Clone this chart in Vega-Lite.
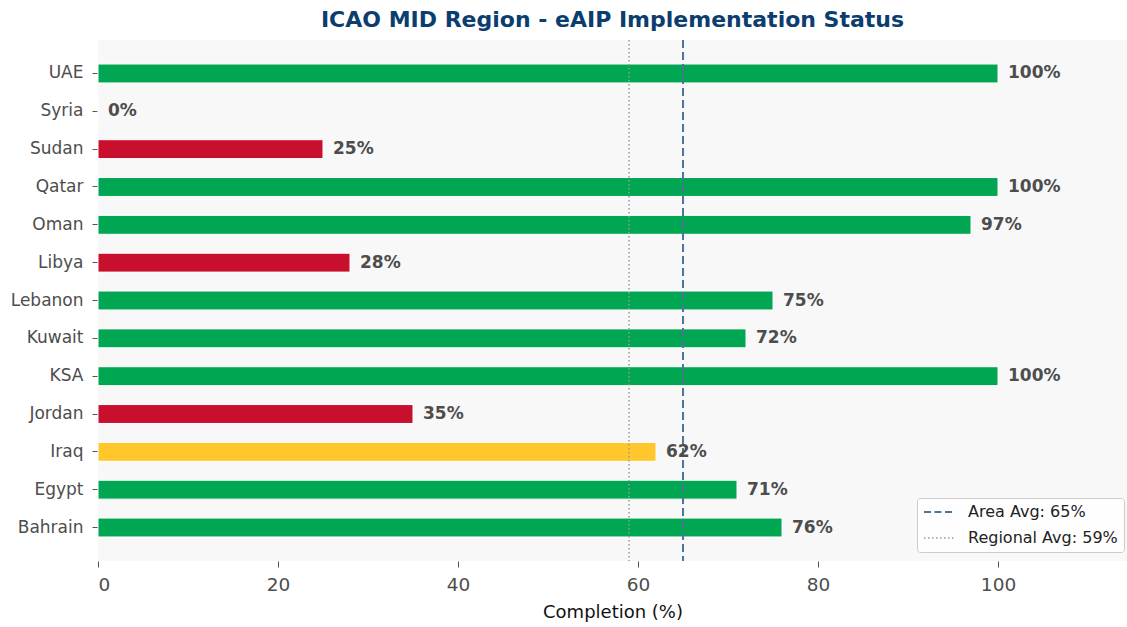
{
  "$schema": "https://vega.github.io/schema/vega-lite/v6.json",
  "autosize": {"type": "none"},
  "padding": {"left": 98, "top": 40, "right": 0, "bottom": 66},
  "width": 1029,
  "height": 521,
  "background": "white",
  "title": {
    "text": "ICAO MID Region - eAIP Implementation Status",
    "font": "DejaVu Sans",
    "fontSize": 22,
    "fontWeight": "bold",
    "color": "#0b3d6e",
    "anchor": "middle",
    "offset": 7
  },
  "config": {
    "font": "DejaVu Sans",
    "view": {"fill": "#f8f8f8", "stroke": null}
  },
  "datasets": {
    "countries": [
      {"country": "UAE", "value": 100, "status": "high"},
      {"country": "Syria", "value": 0, "status": "low"},
      {"country": "Sudan", "value": 25, "status": "low"},
      {"country": "Qatar", "value": 100, "status": "high"},
      {"country": "Oman", "value": 97, "status": "high"},
      {"country": "Libya", "value": 28, "status": "low"},
      {"country": "Lebanon", "value": 75, "status": "high"},
      {"country": "Kuwait", "value": 72, "status": "high"},
      {"country": "KSA", "value": 100, "status": "high"},
      {"country": "Jordan", "value": 35, "status": "low"},
      {"country": "Iraq", "value": 62, "status": "medium"},
      {"country": "Egypt", "value": 71, "status": "high"},
      {"country": "Bahrain", "value": 76, "status": "high"}
    ],
    "averages": [
      {"name": "Area Avg: 65%", "value": 65},
      {"name": "Regional Avg: 59%", "value": 59}
    ]
  },
  "resolve": {"scale": {"color": "independent"}, "legend": {"color": "independent"}},
  "layer": [
    {
      "data": {"name": "countries"},
      "mark": {"type": "bar", "stroke": "white", "strokeWidth": 1},
      "encoding": {
        "y": {
          "field": "country",
          "type": "nominal",
          "sort": ["UAE", "Syria", "Sudan", "Qatar", "Oman", "Libya", "Lebanon", "Kuwait", "KSA", "Jordan", "Iraq", "Egypt", "Bahrain"],
          "scale": {"paddingInner": 0.5, "paddingOuter": 0.635},
          "axis": {
            "title": null,
            "domain": false,
            "ticks": true,
            "tickSize": 6,
            "tickColor": "#555555",
            "labelFontSize": 17,
            "labelColor": "#4d4d4d",
            "labelPadding": 9
          }
        },
        "x": {
          "field": "value",
          "type": "quantitative",
          "scale": {"domain": [0, 114.33], "nice": false, "zero": true},
          "axis": {
            "title": "Completion (%)",
            "titleFontSize": 18,
            "titleFontWeight": "normal",
            "titleColor": "#111111",
            "titlePadding": 10,
            "values": [0, 20, 40, 60, 80, 100],
            "grid": false,
            "domain": false,
            "tickSize": 6,
            "tickColor": "#555555",
            "labelFontSize": 18.5,
            "labelColor": "#4d4d4d",
            "labelPadding": 8
          }
        },
        "color": {
          "field": "status",
          "type": "nominal",
          "scale": {"domain": ["high", "medium", "low"], "range": ["#00a651", "#ffc72c", "#c8102e"]},
          "legend": null
        }
      }
    },
    {
      "data": {"name": "averages"},
      "mark": {"type": "rule"},
      "encoding": {
        "x": {"field": "value", "type": "quantitative"},
        "color": {
          "field": "name",
          "type": "nominal",
          "scale": {"domain": ["Area Avg: 65%", "Regional Avg: 59%"], "range": ["#4f7399", "#9a9a9a"]},
          "legend": {
            "title": null,
            "orient": "none",
            "legendX": 819,
            "legendY": 458,
            "fillColor": "rgba(255,255,255,0.85)",
            "strokeColor": "#cccccc",
            "cornerRadius": 3,
            "padding": 6,
            "rowPadding": 10,
            "symbolType": "stroke",
            "symbolSize": 900,
            "symbolOffset": 8,
            "symbolStrokeWidth": 2,
            "labelFontSize": 16,
            "labelColor": "#222222",
            "labelOffset": 21,
            "encode": {
              "symbols": {
                "update": {
                  "strokeDash": {"signal": "datum.value === 'Area Avg: 65%' ? [7, 3.5] : [1.5, 2.5]"},
                  "strokeWidth": {"signal": "datum.value === 'Area Avg: 65%' ? 2 : 1.5"}
                }
              }
            }
          }
        },
        "strokeDash": {
          "field": "name",
          "type": "nominal",
          "scale": {"domain": ["Area Avg: 65%", "Regional Avg: 59%"], "range": [[8, 4], [1.5, 2.5]]},
          "legend": null
        },
        "strokeWidth": {
          "field": "name",
          "type": "nominal",
          "scale": {"domain": ["Area Avg: 65%", "Regional Avg: 59%"], "range": [2, 1.5]},
          "legend": null
        }
      }
    },
    {
      "data": {"name": "countries"},
      "transform": [{"calculate": "datum.value + '%'", "as": "label"}],
      "mark": {"type": "text", "align": "left", "baseline": "middle", "dx": 10, "fontWeight": "bold", "fontSize": 17, "color": "#4d4d4d"},
      "encoding": {
        "y": {
          "field": "country",
          "type": "nominal",
          "sort": ["UAE", "Syria", "Sudan", "Qatar", "Oman", "Libya", "Lebanon", "Kuwait", "KSA", "Jordan", "Iraq", "Egypt", "Bahrain"]
        },
        "x": {"field": "value", "type": "quantitative"},
        "text": {"field": "label", "type": "nominal"}
      }
    }
  ]
}
